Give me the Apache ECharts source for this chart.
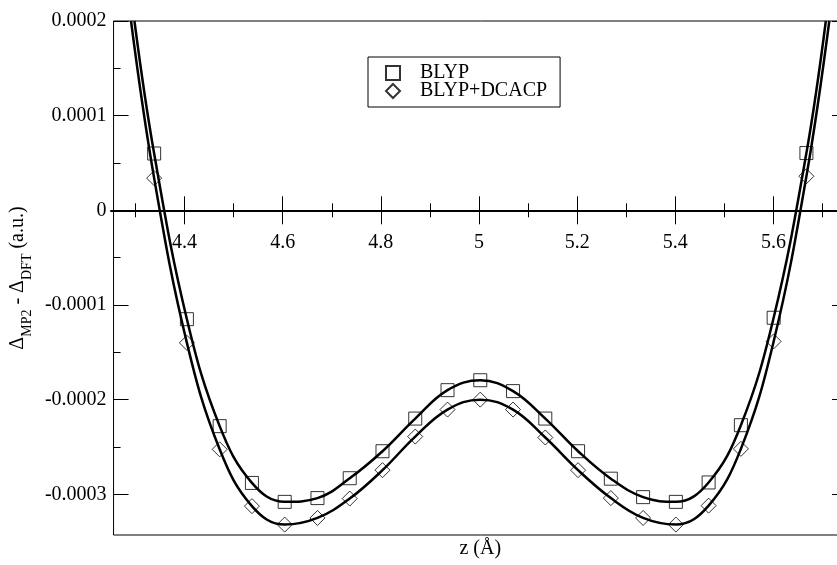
<!DOCTYPE html>
<html>
<head>
<meta charset="utf-8">
<script src="https://cdn.jsdelivr.net/npm/echarts@6/dist/echarts.min.js"></script>
<style>
html, body { margin: 0; padding: 0; background: #fff; overflow: hidden; }
/* wider than the window: the right edge of the frame falls just outside the picture */
#chart { width: 870px; height: 565px; }
</style>
</head>
<body>
<div id="chart"></div>
<script>
// z (Å), one point every 1/15 Å
var zValues = [4.333, 4.4, 4.467, 4.533, 4.6, 4.667, 4.733, 4.8, 4.867, 4.933, 5.0,
               5.067, 5.133, 5.2, 5.267, 5.333, 5.4, 5.467, 5.533, 5.6, 5.667];
var blypValues = [6.0e-5, -1.15e-4, -2.28e-4, -2.88e-4, -3.08e-4, -3.04e-4, -2.83e-4, -2.545e-4, -2.2e-4, -1.9e-4, -1.795e-4,
                  -1.91e-4, -2.2e-4, -2.545e-4, -2.835e-4, -3.03e-4, -3.08e-4, -2.875e-4, -2.27e-4, -1.135e-4, 6.05e-5];
var dcacpValues = [3.4e-5, -1.4e-4, -2.525e-4, -3.125e-4, -3.32e-4, -3.25e-4, -3.045e-4, -2.745e-4, -2.39e-4, -2.105e-4, -2.0e-4,
                   -2.105e-4, -2.4e-4, -2.745e-4, -3.04e-4, -3.25e-4, -3.32e-4, -3.12e-4, -2.52e-4, -1.385e-4, 3.6e-5];
// where the fitted curves run out of the top of the frame
var blypFitEnds = [[4.2927, 0.0002], [5.7067, 0.0002]];
var dcacpFitEnds = [[4.2857, 0.0002], [5.7138, 0.0002]];

var xMajorTicks = [4.4, 4.6, 4.8, 5, 5.2, 5.4, 5.6];
var xMinorTicks = [4.3, 4.5, 4.7, 4.9, 5.1, 5.3, 5.5, 5.7];
var yMajorTicks = [-0.0003, -0.0002, -0.0001, 0, 0.0001, 0.0002];
var yMinorTicks = [-0.00025, -0.00015, -0.00005, 0.00005, 0.00015];

var xMin = 4.25, xMax = 5.75, yMin = -0.000343, yMax = 0.0002;
var font = 'Liberation Serif';

function pairs(ys) {
    return zValues.map(function (z, i) { return [z, ys[i]]; });
}

function fit(ys, ends) {
    return [ends[0]].concat(pairs(ys), [ends[1]]);
}

var chart = echarts.init(document.getElementById('chart'));

var yLabelFmt = function (v) { return Math.abs(v) < 1e-12 ? '0' : v.toFixed(4); };

chart.setOption({
    animation: false,
    backgroundColor: '#fff',
    grid: [
        { left: 111, top: 21, width: 736, height: 514, show: true, borderColor: '#000', borderWidth: 1 },
        // same frame, cut at y = 0 so the tick axis sits on the zero line
        { left: 111, top: 21, width: 736, height: 189.3 }
    ],
    legend: {
        data: ['BLYP', 'BLYP+DCACP'],
        orient: 'vertical',
        left: 368, top: 57,
        itemWidth: 14, itemHeight: 14, itemGap: -2,
        padding: [6, 13, 6, 17],
        borderColor: '#000', borderWidth: 1, borderRadius: 0,
        textStyle: { fontFamily: font, fontSize: 20, color: '#000', padding: [0, 0, 0, 15] }
    },
    xAxis: [
        {
            type: 'value', gridIndex: 0, min: xMin, max: xMax, position: 'bottom',
            axisLine: { show: false }, axisTick: { show: false }, axisLabel: { show: false },
            splitLine: { show: false },
            name: 'z (Å)', nameLocation: 'middle', nameGap: 4,
            nameTextStyle: { fontFamily: font, fontSize: 20, color: '#000' }
        },
        {
            type: 'value', gridIndex: 1, min: xMin, max: xMax, position: 'bottom',
            axisLine: { show: true, lineStyle: { color: '#000', width: 2 } },
            axisTick: { show: false }, axisLabel: { show: false }, splitLine: { show: false }
        },
        {
            type: 'value', gridIndex: 1, min: xMin, max: xMax, position: 'bottom', offset: -14,
            axisLine: { show: false },
            axisTick: { show: true, length: 28, customValues: xMajorTicks, lineStyle: { color: '#000', width: 1 } },
            axisLabel: { show: true, customValues: xMajorTicks, margin: 36, fontFamily: font, fontSize: 20, color: '#000' },
            splitLine: { show: false }
        },
        {
            type: 'value', gridIndex: 1, min: xMin, max: xMax, position: 'bottom', offset: -7,
            axisLine: { show: false },
            axisTick: { show: true, length: 14, customValues: xMinorTicks, lineStyle: { color: '#000', width: 1 } },
            axisLabel: { show: false }, splitLine: { show: false }
        }
    ],
    yAxis: [
        {
            type: 'value', gridIndex: 0, min: yMin, max: yMax, position: 'left',
            axisLine: { show: false }, splitLine: { show: false },
            axisTick: { show: true, inside: true, length: 15, customValues: yMajorTicks, lineStyle: { color: '#000' } },
            axisLabel: { show: true, customValues: yMajorTicks, margin: 7, formatter: yLabelFmt,
                         fontFamily: font, fontSize: 20, color: '#000' },
            name: '{d|Δ}{s|MP2}{d| - Δ}{s|DFT}{d| (a.u.)}',
            nameLocation: 'middle', nameGap: 75,
            nameTextStyle: {
                rich: {
                    d: { fontFamily: font, fontSize: 20, color: '#000', lineHeight: 32 },
                    s: { fontFamily: font, fontSize: 14, color: '#000', lineHeight: 18, verticalAlign: 'bottom' }
                }
            }
        },
        {
            type: 'value', gridIndex: 0, min: yMin, max: yMax, position: 'left',
            axisLine: { show: false }, splitLine: { show: false }, axisLabel: { show: false },
            axisTick: { show: true, inside: true, length: 7, customValues: yMinorTicks, lineStyle: { color: '#000' } }
        },
        {
            type: 'value', gridIndex: 0, min: yMin, max: yMax, position: 'right',
            axisLine: { show: false }, splitLine: { show: false }, axisLabel: { show: false },
            axisTick: { show: true, inside: true, length: 15, customValues: yMajorTicks, lineStyle: { color: '#000' } }
        },
        { type: 'value', gridIndex: 1, min: 0, max: yMax, show: false }
    ],
    series: [
        {
            name: 'BLYP fit', type: 'line', xAxisIndex: 0, yAxisIndex: 0,
            data: fit(blypValues, blypFitEnds), smooth: 0.4, showSymbol: false, silent: true,
            lineStyle: { color: '#000', width: 2.5 }
        },
        {
            name: 'BLYP+DCACP fit', type: 'line', xAxisIndex: 0, yAxisIndex: 0,
            data: fit(dcacpValues, dcacpFitEnds), smooth: 0.4, showSymbol: false, silent: true,
            lineStyle: { color: '#000', width: 2.5 }
        },
        {
            name: 'BLYP', type: 'scatter', xAxisIndex: 0, yAxisIndex: 0,
            data: pairs(blypValues), symbol: 'rect', symbolSize: 13,
            itemStyle: { color: 'rgba(0,0,0,0)', borderColor: '#000', borderWidth: 1 }
        },
        {
            name: 'BLYP+DCACP', type: 'scatter', xAxisIndex: 0, yAxisIndex: 0,
            data: pairs(dcacpValues), symbol: 'diamond', symbolSize: 15,
            itemStyle: { color: 'rgba(0,0,0,0)', borderColor: '#000', borderWidth: 1 }
        }
    ]
});
</script>
</body>
</html>
